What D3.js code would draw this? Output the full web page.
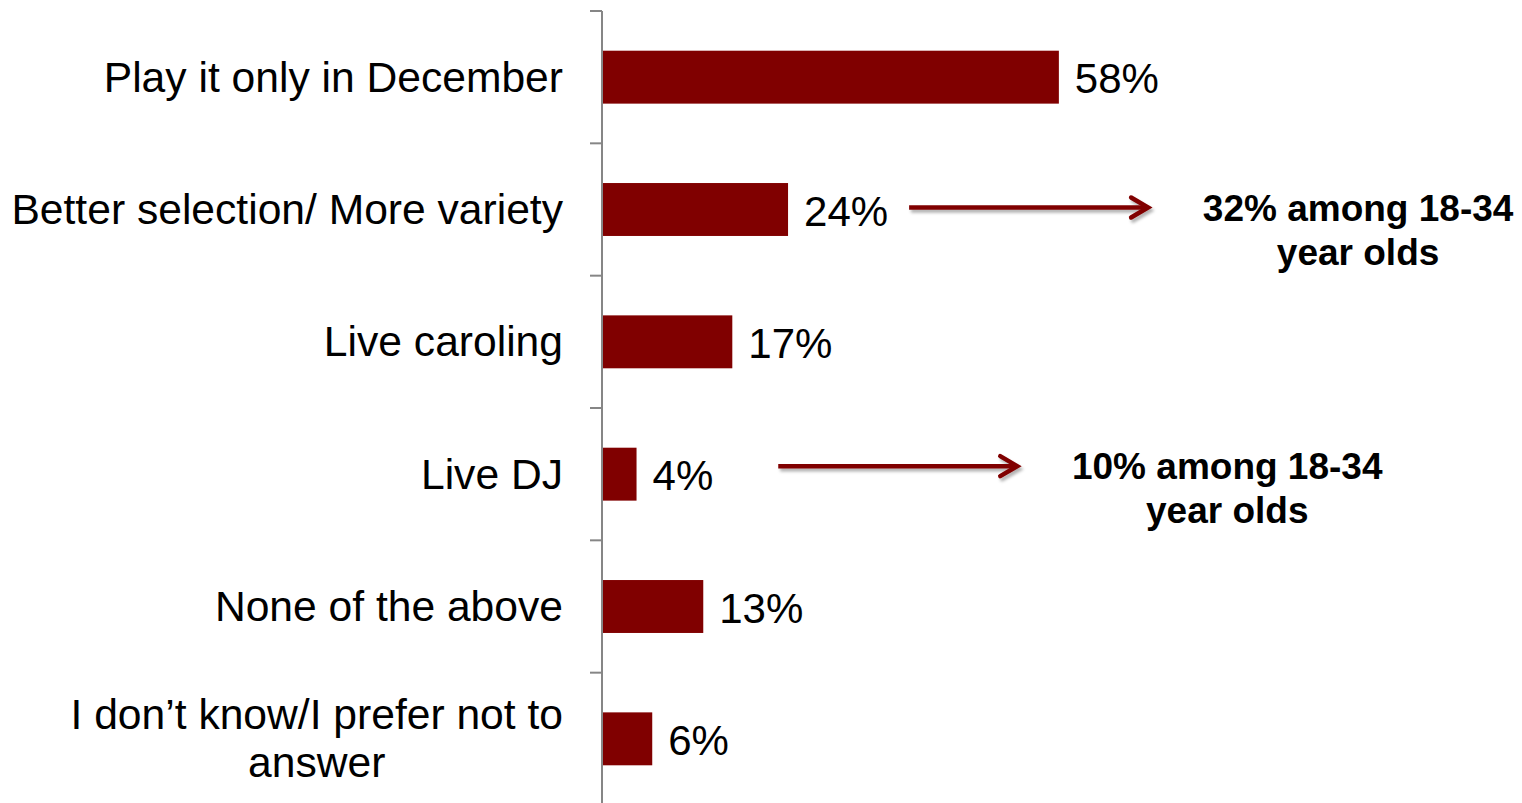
<!DOCTYPE html>
<html>
<head>
<meta charset="utf-8">
<script src="https://cdn.jsdelivr.net/npm/d3@7"></script>
<style>
  body { margin: 0; background: #fff; }
  svg { display: block; font-family: Arial, "Liberation Sans", sans-serif; }
</style>
</head>
<body>
<svg id="chart" width="1522" height="803"></svg>
<script>
// data (bar lengths read as decimals, labels shown rounded)
var categories = [
    ["Play it only in December"],
    ["Better selection/ More variety"],
    ["Live caroling"],
    ["Live DJ"],
    ["None of the above"],
    ["I don\u2019t know/I prefer not to", "answer"]
];
var values = [58.2, 23.7, 16.6, 4.4, 12.9, 6.4];

// callouts: which bar, and the two lines of text
var calloutIndex = [1, 3];
var calloutLines = [
    ["32% among 18-34", "year olds"],
    ["10% among 18-34", "year olds"]
];

var svg = d3.select("#chart");
var RED = "#800000";
var LABEL_SIZE = 42.6;

var y = d3.scaleBand()
    .domain(d3.range(categories.length))
    .range([11, 805])
    .paddingInner(0.6)
    .paddingOuter(0.3);

var x = d3.scaleLinear()
    .domain([0, 100])
    .range([602, 602 + 785]);

var defs = svg.append("defs");
var f = defs.append("filter").attr("id", "shadow")
    .attr("x", "-10%").attr("y", "-100%").attr("width", "120%").attr("height", "300%");
f.append("feDropShadow")
    .attr("dx", 2).attr("dy", 3).attr("stdDeviation", 1.8)
    .attr("flood-color", "#000").attr("flood-opacity", 0.3);

// axis: vertical line + ticks at band boundaries
var step = y.step();
var bounds = d3.range(categories.length + 1).map(function(i) {
    return y(0) + y.bandwidth() / 2 + (i - 0.5) * step;
});
var axis = svg.append("g").attr("stroke", "#868686").attr("stroke-width", 2);
axis.append("line")
    .attr("x1", x(0)).attr("x2", x(0))
    .attr("y1", bounds[0]).attr("y2", 803);
axis.selectAll("line.tick").data(bounds).enter().append("line")
    .attr("class", "tick")
    .attr("x1", x(0) - 12).attr("x2", x(0))
    .attr("y1", function(d) { return d; })
    .attr("y2", function(d) { return d; });

// bars
svg.selectAll("rect.bar").data(values).enter().append("rect")
    .attr("class", "bar")
    .attr("x", x(0) + 1)
    .attr("y", function(d, i) { return y(i); })
    .attr("width", function(d) { return x(d) - x(0) - 1; })
    .attr("height", y.bandwidth())
    .attr("fill", RED);

// value labels
svg.selectAll("text.val").data(values).enter().append("text")
    .attr("class", "val")
    .attr("x", function(d) { return x(d) + 16; })
    .attr("y", function(d, i) { return y(i) + y.bandwidth() / 2 + 1; })
    .attr("dy", "0.36em")
    .attr("font-size", 42)
    .attr("fill", "#000")
    .text(function(d) { return Math.round(d) + "%"; });

// category labels, right aligned; wrapped lines centered in their block
var labelRight = 563;
categories.forEach(function(lines, i) {
    var g = svg.append("text")
        .attr("font-size", LABEL_SIZE)
        .attr("fill", "#000");
    var cy = y(i) + y.bandwidth() / 2 - 1;
    if (lines.length === 1) {
        g.attr("x", labelRight).attr("y", cy).attr("dy", "0.36em")
            .attr("text-anchor", "end").text(lines[0]);
    } else {
        var tmp = svg.append("text").attr("font-size", LABEL_SIZE).text(lines[0]);
        var w = tmp.node().getComputedTextLength();
        tmp.remove();
        var cx = labelRight - w / 2;
        var lh = 48;
        g.attr("text-anchor", "middle");
        lines.forEach(function(l, j) {
            g.append("tspan")
                .attr("x", cx)
                .attr("y", cy + (j - (lines.length - 1) / 2) * lh)
                .attr("dy", "0.36em")
                .text(l);
        });
    }
});

// callout arrows and text (offsets from the bar's value label)
var arrowGap = [21, 65];
var arrowRise = [2, 8];
calloutIndex.forEach(function(bi, k) {
    var lbl = svg.selectAll("text.val").nodes()[bi];
    var cy = y(bi) + y.bandwidth() / 2 - arrowRise[k];
    var x0 = x(values[bi]) + 16 + lbl.getComputedTextLength() + arrowGap[k];
    var x1 = x0 + 239;
    var ag = svg.append("g").attr("filter", "url(#shadow)")
        .attr("stroke", RED).attr("fill", "none")
        .attr("stroke-width", 4.5);
    ag.append("line")
        .attr("x1", x0).attr("x2", x1 - 3)
        .attr("y1", cy).attr("y2", cy);
    ag.append("path")
        .attr("stroke-linecap", "round")
        .attr("stroke-linejoin", "miter")
        .attr("d", "M" + (x1 - 17) + "," + (cy - 10) + "L" + x1 + "," + cy + "L" + (x1 - 17) + "," + (cy + 10));

    var tx = x1 + 210;
    var t = svg.append("text")
        .attr("text-anchor", "middle")
        .attr("font-size", 37)
        .attr("font-weight", "bold")
        .attr("fill", "#000");
    calloutLines[k].forEach(function(l, j) {
        t.append("tspan")
            .attr("x", tx)
            .attr("y", cy + j * 44)
            .attr("dy", "0.36em")
            .text(l);
    });
});
</script>
</body>
</html>
